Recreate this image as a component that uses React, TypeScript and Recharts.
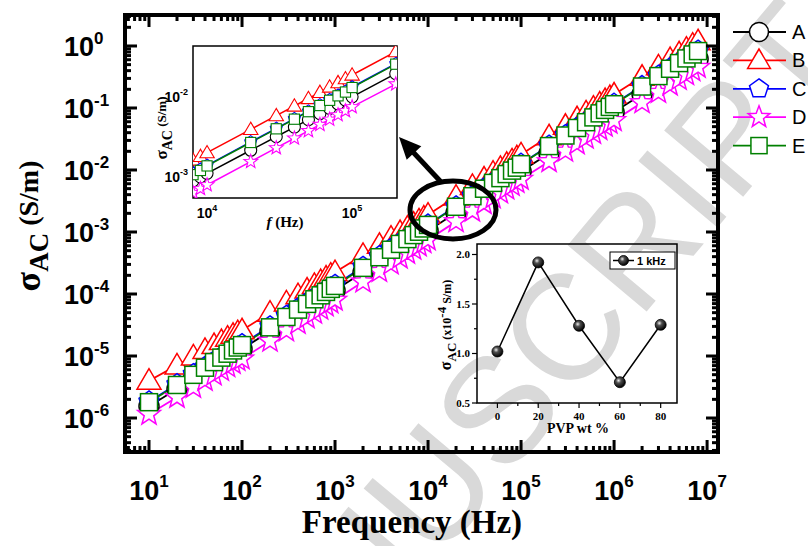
import React from 'react';
import { LineChart, Line, XAxis, YAxis, ReferenceArea } from 'recharts';

const W = 808;
const H = 546;
const SANS = '"Liberation Sans", Arial, sans-serif';
const SERIF = '"Liberation Serif", "Times New Roman", serif';

// frequency points (Hz)
const FREQ = [
  10, 20, 30, 40, 50, 60, 70, 80, 90,
  100, 200, 300, 400, 500, 600, 700, 800, 900,
  1e3, 2e3, 3e3, 4e3, 5e3, 6e3, 7e3, 8e3, 9e3,
  1e4, 2e4, 3e4, 4e4, 5e4, 6e4, 7e4, 8e4, 9e4,
  1e5, 2e5, 3e5, 4e5, 5e5, 6e5, 7e5, 8e5, 9e5,
  1e6, 2e6, 3e6, 4e6, 5e6, 6e6, 7e6, 8e6,
];

// sigma_AC (S/m), one array per sample
const SIGMA_A = [
  1.55e-6, 2.94e-6, 4.28e-6, 5.58e-6, 6.86e-6, 8.12e-6, 9.36e-6, 1.06e-5, 1.18e-5,
  1.30e-5, 2.51e-5, 3.69e-5, 4.85e-5, 5.99e-5, 7.13e-5, 8.25e-5, 9.36e-5, 1.05e-4,
  1.15e-4, 2.24e-4, 3.30e-4, 4.35e-4, 5.39e-4, 6.42e-4, 7.45e-4, 8.47e-4, 9.48e-4,
  1.05e-3, 2.04e-3, 3.01e-3, 3.97e-3, 4.92e-3, 5.86e-3, 6.80e-3, 7.73e-3, 8.65e-3,
  9.50e-3, 1.85e-2, 2.73e-2, 3.59e-2, 4.45e-2, 5.31e-2, 6.15e-2, 6.99e-2, 7.83e-2,
  0.086, 0.166, 0.244, 0.321, 0.397, 0.471, 0.546, 0.619,
];
const SIGMA_B = [
  4.00e-6, 7.06e-6, 9.84e-6, 1.25e-5, 1.50e-5, 1.74e-5, 1.97e-5, 2.20e-5, 2.42e-5,
  2.60e-5, 4.99e-5, 7.30e-5, 9.57e-5, 1.18e-4, 1.40e-4, 1.62e-4, 1.84e-4, 2.05e-4,
  2.25e-4, 4.27e-4, 6.21e-4, 8.10e-4, 9.96e-4, 1.18e-3, 1.36e-3, 1.54e-3, 1.71e-3,
  1.90e-3, 3.72e-3, 5.52e-3, 7.29e-3, 9.04e-3, 1.08e-2, 1.26e-2, 1.43e-2, 1.60e-2,
  1.78e-2, 3.49e-2, 5.17e-2, 6.83e-2, 8.47e-2, 0.101, 0.118, 0.134, 0.150,
  0.165, 0.319, 0.469, 0.616, 0.761, 0.905, 1.05, 1.19,
];
const SIGMA_C = [
  1.85e-6, 3.51e-6, 5.10e-6, 6.66e-6, 8.19e-6, 9.69e-6, 1.12e-5, 1.26e-5, 1.41e-5,
  1.55e-5, 3.01e-5, 4.45e-5, 5.87e-5, 7.27e-5, 8.66e-5, 1.00e-4, 1.14e-4, 1.28e-4,
  1.40e-4, 2.74e-4, 4.07e-4, 5.37e-4, 6.66e-4, 7.96e-4, 9.25e-4, 1.05e-3, 1.18e-3,
  1.32e-3, 2.59e-3, 3.83e-3, 5.06e-3, 6.28e-3, 7.51e-3, 8.72e-3, 9.92e-3, 1.11e-2,
  1.26e-2, 2.47e-2, 3.66e-2, 4.83e-2, 6.00e-2, 7.17e-2, 8.33e-2, 9.47e-2, 0.106,
  0.117, 0.226, 0.332, 0.437, 0.539, 0.641, 0.742, 0.842,
];
const SIGMA_D = [
  1.15e-6, 2.16e-6, 3.13e-6, 4.06e-6, 4.97e-6, 5.87e-6, 6.76e-6, 7.63e-6, 8.49e-6,
  9.00e-6, 1.74e-5, 2.56e-5, 3.36e-5, 4.15e-5, 4.93e-5, 5.71e-5, 6.48e-5, 7.24e-5,
  8.00e-5, 1.57e-4, 2.32e-4, 3.07e-4, 3.81e-4, 4.55e-4, 5.29e-4, 6.01e-4, 6.74e-4,
  7.50e-4, 1.47e-3, 2.18e-3, 2.88e-3, 3.57e-3, 4.27e-3, 4.96e-3, 5.64e-3, 6.32e-3,
  7.10e-3, 1.37e-2, 2.02e-2, 2.65e-2, 3.27e-2, 3.89e-2, 4.50e-2, 5.11e-2, 5.71e-2,
  0.063, 0.122, 0.179, 0.235, 0.290, 0.345, 0.400, 0.454,
];
const SIGMA_E = [
  1.80e-6, 3.41e-6, 4.97e-6, 6.48e-6, 7.97e-6, 9.42e-6, 1.09e-5, 1.23e-5, 1.37e-5,
  1.50e-5, 2.90e-5, 4.26e-5, 5.60e-5, 6.92e-5, 8.22e-5, 9.52e-5, 1.08e-4, 1.21e-4,
  1.35e-4, 2.64e-4, 3.92e-4, 5.18e-4, 6.42e-4, 7.68e-4, 8.92e-4, 1.01e-3, 1.14e-3,
  1.30e-3, 2.55e-3, 3.78e-3, 4.99e-3, 6.19e-3, 7.39e-3, 8.59e-3, 9.77e-3, 1.09e-2,
  1.24e-2, 2.43e-2, 3.60e-2, 4.76e-2, 5.90e-2, 7.05e-2, 8.19e-2, 9.32e-2, 0.104,
  0.115, 0.222, 0.327, 0.429, 0.530, 0.630, 0.730, 0.828,
];

// bottom-right inset: sigma_AC at 1 kHz (x10^-4 S/m) vs PVP wt %
const PVP_WT = [0, 20, 40, 60, 80];
const SIGMA_1KHZ = [1.02, 1.92, 1.28, 0.71, 1.29];

const SERIES = [
  { key: 'A', color: '#000000', shape: 'circle', values: SIGMA_A },
  { key: 'B', color: '#ff0000', shape: 'triangle', values: SIGMA_B },
  { key: 'C', color: '#0000ff', shape: 'pentagon', values: SIGMA_C },
  { key: 'D', color: '#ff00ff', shape: 'star', values: SIGMA_D },
  { key: 'E', color: '#008000', shape: 'square', values: SIGMA_E },
];

// plot boxes (px) and axis ranges
const MAIN = { left: 125, right: 718, top: 15, bottom: 452 };
const MAIN_X = [5.52, 1.31e7];
const MAIN_Y = [2.83e-7, 3.16];
const IN1 = { left: 193, right: 397, top: 46, bottom: 198 };
const IN1_X = [8000, 2.04e5];
const IN1_Y = [5.16e-4, 0.041];
const IN2 = { left: 477, right: 677, top: 244, bottom: 403 };
const IN2_X = [-10, 88];
const IN2_Y = [0.5, 2.106];

const IN1_X_LABELS = [1e4, 1e5];
const IN1_Y_LABELS = [1e-3, 1e-2];
const PVP_TICKS = [0, 20, 40, 60, 80];
const PVP_MINOR = [10, 30, 50, 70];
const S1K_TICKS = [0.5, 1.0, 1.5, 2.0];
const S1K_MINOR = [0.75, 1.25, 1.75];

const AXIS_H = 30;
const AXIS_W = 40;

const table = FREQ.map((f, i) => {
  const row: any = { f };
  SERIES.forEach(s => { row[s.key] = s.values[i]; });
  return row;
});
const insetTable = table.filter(r => r.f >= IN1_X[0] && r.f <= IN1_X[1]);
const pvpTable = PVP_WT.map((wt, i) => ({ wt, sigma: SIGMA_1KHZ[i] }));

function logTicks(lo: number, hi: number) {
  const out: number[] = [];
  for (let e = Math.floor(Math.log10(lo)); e <= Math.ceil(Math.log10(hi)); e++) {
    for (let k = 1; k <= 9; k++) {
      const v = parseFloat((k * Math.pow(10, e)).toPrecision(6));
      if (v >= lo && v <= hi) out.push(v);
    }
  }
  return out;
}
const isDecade = (v: number) => Math.abs(Math.log10(v) - Math.round(Math.log10(v))) < 1e-6;

// margins so that the plot area lands on the given box
const marginFor = (b: any) => ({
  top: b.top,
  right: W - b.right,
  bottom: H - b.bottom - AXIS_H,
  left: b.left - AXIS_W,
});

function Marker({ shape, cx, cy, color, size, sw = 1.5 }: any) {
  const st = { fill: '#fff', stroke: color, strokeWidth: sw };
  const pts = (list: number[][]) => list.map(p => `${cx + p[0] * size},${cy + p[1] * size}`).join(' ');
  if (shape === 'circle') return <circle cx={cx} cy={cy} r={size} {...st} />;
  if (shape === 'triangle') return <polygon points={pts([[0, -1.2], [-1.2, 0.85], [1.2, 0.85]])} {...st} />;
  if (shape === 'square') return <rect x={cx - size * 0.85} y={cy - size * 0.85} width={size * 1.7} height={size * 1.7} {...st} />;
  if (shape === 'pentagon') {
    const p = [0, 1, 2, 3, 4].map(i => {
      const a = -Math.PI / 2 + (i * 2 * Math.PI) / 5;
      return [Math.cos(a) * 1.05, Math.sin(a) * 1.05];
    });
    return <polygon points={pts(p)} {...st} />;
  }
  const p = Array.from({ length: 10 }, (_, i) => {
    const a = -Math.PI / 2 + (i * Math.PI) / 5;
    const r = i % 2 === 0 ? 1.2 : 0.5;
    return [Math.cos(a) * r, Math.sin(a) * r];
  });
  return <polygon points={pts(p)} {...st} />;
}

function Sphere({ cx, cy, r, id }: any) {
  return (
    <g>
      <defs>
        <radialGradient id={id} cx="38%" cy="35%" r="65%">
          <stop offset="0%" stopColor="#eeeeee" />
          <stop offset="35%" stopColor="#505050" />
          <stop offset="100%" stopColor="#000" />
        </radialGradient>
      </defs>
      <circle cx={cx} cy={cy} r={r} fill={`url(#${id})`} stroke="#000" strokeWidth={0.8} />
    </g>
  );
}

function MainXTick(props: any) {
  const { x, payload } = props;
  const major = isDecade(payload.value);
  const len = major ? 12 : 6;
  return (
    <g>
      <line x1={x} x2={x} y1={MAIN.bottom} y2={MAIN.bottom - len} stroke="#000" strokeWidth={3} />
      <line x1={x} x2={x} y1={MAIN.top} y2={MAIN.top + len} stroke="#000" strokeWidth={3} />
      {major && (
        <text x={x} y={500} textAnchor="middle" fontFamily={SANS} fontWeight="bold" fontSize={27}>
          10<tspan dy={-13} fontSize={17}>{Math.round(Math.log10(payload.value))}</tspan>
        </text>
      )}
    </g>
  );
}

function MainYTick(props: any) {
  const { y, payload } = props;
  const major = isDecade(payload.value);
  const len = major ? 12 : 6;
  return (
    <g>
      <line x1={MAIN.left} x2={MAIN.left + len} y1={y} y2={y} stroke="#000" strokeWidth={3} />
      <line x1={MAIN.right} x2={MAIN.right - len} y1={y} y2={y} stroke="#000" strokeWidth={3} />
      {major && (
        <text x={64} y={y + 10} textAnchor="start" fontFamily={SANS} fontWeight="bold" fontSize={27}>
          10<tspan dy={-12} fontSize={17}>{Math.round(Math.log10(payload.value))}</tspan>
        </text>
      )}
    </g>
  );
}

function In1XTick(props: any) {
  const { x, payload } = props;
  return (
    <text x={x} y={IN1.bottom + 20} textAnchor="middle" fontFamily={SANS} fontWeight="bold" fontSize={14}>
      10<tspan dy={-7} fontSize={9}>{Math.round(Math.log10(payload.value))}</tspan>
    </text>
  );
}

function In1YTick(props: any) {
  const { y, payload } = props;
  return (
    <text x={188} y={y + 7} textAnchor="end" fontFamily={SANS} fontWeight="bold" fontSize={14}>
      10<tspan dy={-7} fontSize={9}>{Math.round(Math.log10(payload.value))}</tspan>
    </text>
  );
}

function In2XTick(props: any) {
  const { x, payload } = props;
  const major = PVP_TICKS.includes(payload.value);
  return (
    <g>
      <line x1={x} x2={x} y1={IN2.bottom} y2={IN2.bottom + (major ? 5 : 3)} stroke="#000" strokeWidth={1.2} />
      {major && (
        <text x={x} y={IN2.bottom + 17} textAnchor="middle" fontFamily={SERIF} fontWeight="bold" fontSize={11}>
          {payload.value}
        </text>
      )}
    </g>
  );
}

function In2YTick(props: any) {
  const { y, payload } = props;
  const major = S1K_TICKS.includes(payload.value);
  return (
    <g>
      <line x1={IN2.left} x2={IN2.left - (major ? 5 : 3)} y1={y} y2={y} stroke="#000" strokeWidth={1.2} />
      {major && (
        <text x={470} y={y + 4} textAnchor="end" fontFamily={SERIF} fontWeight="bold" fontSize={11}>
          {payload.value.toFixed(1)}
        </text>
      )}
    </g>
  );
}

const layer: React.CSSProperties = { position: 'absolute', left: 0, top: 0 };

export default function App() {
  const mainXTicks = logTicks(MAIN_X[0], MAIN_X[1]);
  const mainYTicks = logTicks(MAIN_Y[0], MAIN_Y[1]);

  return (
    <div style={{ position: 'absolute', left: 0, top: 0, width: W, height: H, background: '#fff', overflow: 'hidden' }}>
      {/* watermark */}
      <svg width={W} height={H} style={layer}>
        <text x={221} y={819} transform="rotate(-50 221 819)" fontFamily={SANS} fontSize={150} fill="#d9d9d9">
          MANUSCRIPT
        </text>
      </svg>

      {/* main plot */}
      <div style={layer}>
        <LineChart width={W} height={H} data={table} margin={marginFor(MAIN)}>
          <XAxis dataKey="f" type="number" scale="log" domain={MAIN_X} allowDataOverflow ticks={mainXTicks}
            interval={0} height={AXIS_H} axisLine={false} tickLine={false} tick={<MainXTick />} />
          <YAxis type="number" scale="log" domain={MAIN_Y} allowDataOverflow ticks={mainYTicks}
            interval={0} width={AXIS_W} axisLine={false} tickLine={false} tick={<MainYTick />} />
          {SERIES.map(s => (
            <Line key={s.key} dataKey={s.key} type="linear" stroke={s.color} strokeWidth={1.8}
              isAnimationActive={false}
              dot={(p: any) => (
                <g key={`${s.key}-${p.index}`}>
                  <Marker shape={s.shape} cx={p.cx} cy={p.cy} color={s.color} size={10} />
                </g>
              )} />
          ))}
          <ReferenceArea x1={MAIN_X[0]} x2={MAIN_X[1]} y1={MAIN_Y[0]} y2={MAIN_Y[1]}
            fill="none" fillOpacity={0} stroke="#000" strokeWidth={4} />
        </LineChart>
      </div>

      {/* top-left inset */}
      <div style={layer}>
        <LineChart width={W} height={H} data={insetTable} margin={marginFor(IN1)}>
          <XAxis dataKey="f" type="number" scale="log" domain={IN1_X} allowDataOverflow ticks={IN1_X_LABELS}
            interval={0} height={AXIS_H} axisLine={false} tickLine={false} tick={<In1XTick />} />
          <YAxis type="number" scale="log" domain={IN1_Y} allowDataOverflow ticks={IN1_Y_LABELS}
            interval={0} width={AXIS_W} axisLine={false} tickLine={false} tick={<In1YTick />} />
          {SERIES.map(s => (
            <Line key={s.key} dataKey={s.key} type="linear" stroke={s.color} strokeWidth={1.5}
              isAnimationActive={false}
              dot={(p: any) => (
                <g key={`i-${s.key}-${p.index}`}>
                  <Marker shape={s.shape} cx={p.cx} cy={p.cy} color={s.color} size={6} sw={1.1} />
                </g>
              )} />
          ))}
          <ReferenceArea x1={IN1_X[0]} x2={IN1_X[1]} y1={IN1_Y[0]} y2={IN1_Y[1]}
            fill="none" fillOpacity={0} stroke="#000" strokeWidth={1.5} />
        </LineChart>
      </div>

      {/* bottom-right inset */}
      <div style={layer}>
        <LineChart width={W} height={H} data={pvpTable} margin={marginFor(IN2)}>
          <XAxis dataKey="wt" type="number" domain={IN2_X} allowDataOverflow
            ticks={[...PVP_TICKS, ...PVP_MINOR].sort((a, b) => a - b)} interval={0} height={AXIS_H}
            axisLine={false} tickLine={false} tick={<In2XTick />} />
          <YAxis type="number" domain={IN2_Y} allowDataOverflow
            ticks={[...S1K_TICKS, ...S1K_MINOR].sort((a, b) => a - b)} interval={0} width={AXIS_W}
            axisLine={false} tickLine={false} tick={<In2YTick />} />
          <ReferenceArea x1={IN2_X[0]} x2={IN2_X[1]} y1={IN2_Y[0]} y2={IN2_Y[1]}
            fill="none" fillOpacity={0} stroke="#000" strokeWidth={1.5} />
          <Line dataKey="sigma" type="linear" stroke="#000" strokeWidth={1.5} isAnimationActive={false}
            dot={(p: any) => (
              <g key={`s-${p.index}`}>
                <Sphere cx={p.cx} cy={p.cy} r={5.5} id={`sph-${p.index}`} />
              </g>
            )} />
        </LineChart>
      </div>

      {/* titles, legends, annotation */}
      <svg width={W} height={H} style={layer}>
        <text x={412} y={533} textAnchor="middle" fontFamily={SERIF} fontWeight="bold" fontSize={33}>
          Frequency (Hz)
        </text>
        <text transform="rotate(-90)" x={-226} y={40} textAnchor="middle" fontFamily={SERIF} fontWeight="bold">
          <tspan fontSize={36}>σ</tspan>
          <tspan fontSize={27} dy={8}>AC</tspan>
          <tspan fontSize={28} dy={-10}> (S/m)</tspan>
        </text>

        {SERIES.map((s, i) => {
          const y = 32 + i * 28.4;
          return (
            <g key={s.key}>
              <line x1={733} x2={786} y1={y} y2={y} stroke={s.color} strokeWidth={1.8} />
              <Marker shape={s.shape} cx={759} cy={y} color={s.color} size={9.5} />
              <text x={792} y={y + 7} fontFamily={SANS} fontSize={20}>{s.key}</text>
            </g>
          );
        })}

        <text x={285} y={227} textAnchor="middle" fontFamily={SERIF} fontWeight="bold" fontSize={15}>
          <tspan fontStyle="italic">f</tspan> (Hz)
        </text>
        <text transform="rotate(-90)" x={-128} y={167} textAnchor="middle" fontFamily={SERIF} fontWeight="bold">
          <tspan fontSize={17}>σ</tspan>
          <tspan fontSize={14} dy={5}>AC</tspan>
          <tspan fontSize={13} dy={-6}> (S/m)</tspan>
        </text>

        <text x={578} y={433} textAnchor="middle" fontFamily={SERIF} fontWeight="bold" fontSize={14}>PVP wt %</text>
        <text transform="rotate(-90)" x={-325} y={451} textAnchor="middle" fontFamily={SERIF} fontWeight="bold">
          <tspan fontSize={16}>σ</tspan>
          <tspan fontSize={13} dy={5}>AC</tspan>
          <tspan fontSize={12} dy={-5}> (x10</tspan>
          <tspan fontSize={13} dy={-5}>-4</tspan>
          <tspan fontSize={12} dy={5}> S/m)</tspan>
        </text>
        <rect x={610} y={252} width={65} height={17} fill="#fff" stroke="#000" strokeWidth={1} />
        <line x1={613} x2={634} y1={260.5} y2={260.5} stroke="#000" strokeWidth={1.5} />
        <Sphere cx={623.5} cy={260.5} r={5} id="sph-leg" />
        <text x={637} y={265} fontFamily={SANS} fontWeight="bold" fontSize={11}>1 kHz</text>

        <ellipse cx={453} cy={210} rx={43} ry={29} fill="none" stroke="#000" strokeWidth={5} />
        <line x1={441} y1={182} x2={413} y2={152} stroke="#000" strokeWidth={5} />
        <polygon points="399,137 421.3,146.2 406.7,159.8" fill="#000" />
      </svg>
    </div>
  );
}
